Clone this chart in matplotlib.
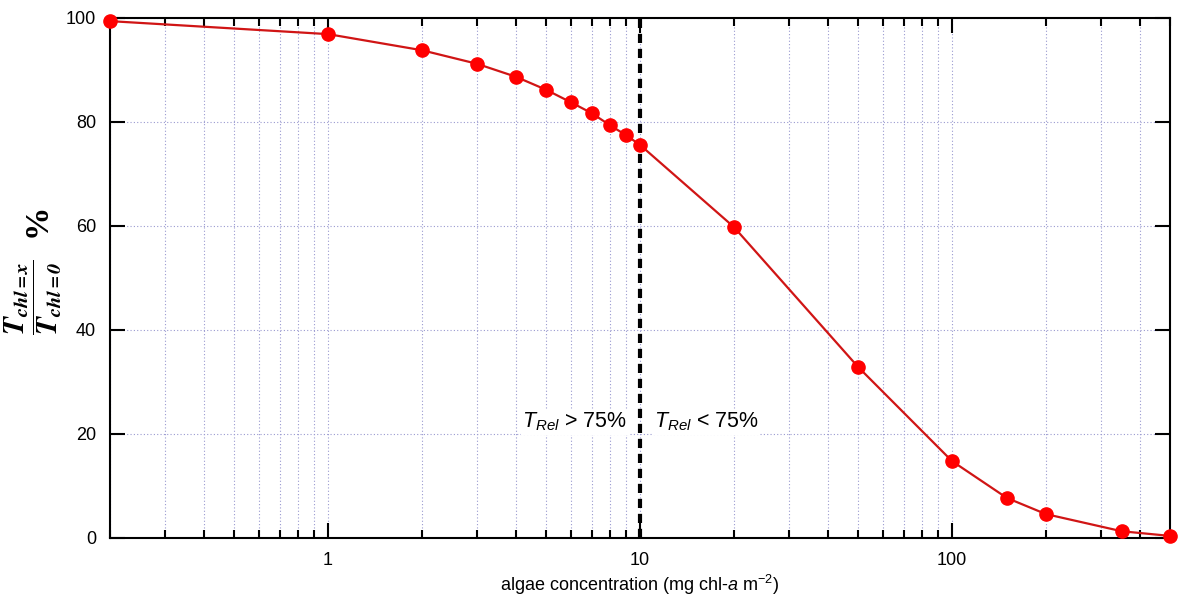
import numpy as np
import matplotlib.pyplot as plt
from matplotlib.ticker import LogLocator, FixedLocator, NullFormatter

plt.rcParams['font.family'] = ['Liberation Sans', 'DejaVu Sans']
plt.rcParams['mathtext.fontset'] = 'custom'
plt.rcParams['mathtext.rm'] = 'Liberation Sans'
plt.rcParams['mathtext.it'] = 'Liberation Sans:italic'
plt.rcParams['mathtext.bf'] = 'Liberation Sans:bold'

# algae concentration (mg chl-a m^-2) and relative transmission (%)
chl = [0.2, 1, 2, 3, 4, 5, 6, 7, 8, 9, 10, 20, 50, 100, 150, 200, 350, 500]
t_rel = [99.4, 96.9, 93.8, 91.2, 88.7, 86.2, 83.8, 81.7, 79.4, 77.5, 75.6,
         59.8, 32.9, 14.8, 7.7, 4.6, 1.3, 0.4]
threshold_chl = 10
y_ticks = [0, 20, 40, 60, 80, 100]

fig = plt.figure(figsize=(11.82, 5.99), dpi=100)
ax = fig.add_axes([110 / 1182, 61 / 599, 1060 / 1182, 520 / 599])

ax.plot(chl, t_rel, color='#d01515', lw=1.6, marker='o', ms=9.5,
        mfc='#ff0000', mec='#ff0000', zorder=4, clip_on=False)
ax.axvline(threshold_chl, color='black', lw=3, ls=(0, (2.2, 1.4)), zorder=3)

ax.set_xscale('log')
ax.set_xlim(0.2, 500)
ax.set_ylim(0, 100)
ax.xaxis.set_major_locator(FixedLocator([1, 10, 100]))
ax.xaxis.set_major_formatter(plt.FuncFormatter(lambda v, p: f'{v:g}'))
ax.xaxis.set_minor_locator(LogLocator(base=10, subs=np.arange(2, 10)))
ax.xaxis.set_minor_formatter(NullFormatter())
ax.set_yticks(y_ticks)

ax.grid(True, which='both', axis='x', color='#9a9ad0', ls=(0, (1, 2)), lw=0.8)
ax.grid(True, which='major', axis='y', color='#9a9ad0', ls=(0, (1, 2)), lw=0.8)

ax.tick_params(which='both', direction='in', top=True, right=True,
               width=1.5, labelsize=13)
ax.tick_params(which='major', length=11, pad=10)
ax.tick_params(which='minor', length=6)
for s in ax.spines.values():
    s.set_linewidth(1.5)

ax.set_xlabel(r'algae concentration (mg chl-$\it{a}$ m$^{\rm{-2}}$)', fontsize=13, labelpad=3)

# y label: bold serif fraction, then a bold percent sign above it
fig.text(0.028, 0.504, r'$\mathbfit{\dfrac{T_{chl=x}}{T_{chl=0}}}$',
         rotation=90, ha='center', va='center', fontsize=21, math_fontfamily='stix')
fig.text(0.031, 0.633, '%', rotation=90, ha='center', va='center',
         fontsize=24, fontweight='bold', family='Liberation Serif')

box = dict(facecolor='white', edgecolor='none', pad=1)
ax.text(9.1, 22.3, r'$T_{Rel}$ > 75%', ha='right', va='center',
        fontsize=15.5, bbox=box, zorder=2)
ax.text(11.1, 22.3, r'$T_{Rel}$ < 75%', ha='left', va='center',
        fontsize=15.5, bbox=box, zorder=2)

fig.savefig('out.png', dpi=100)
